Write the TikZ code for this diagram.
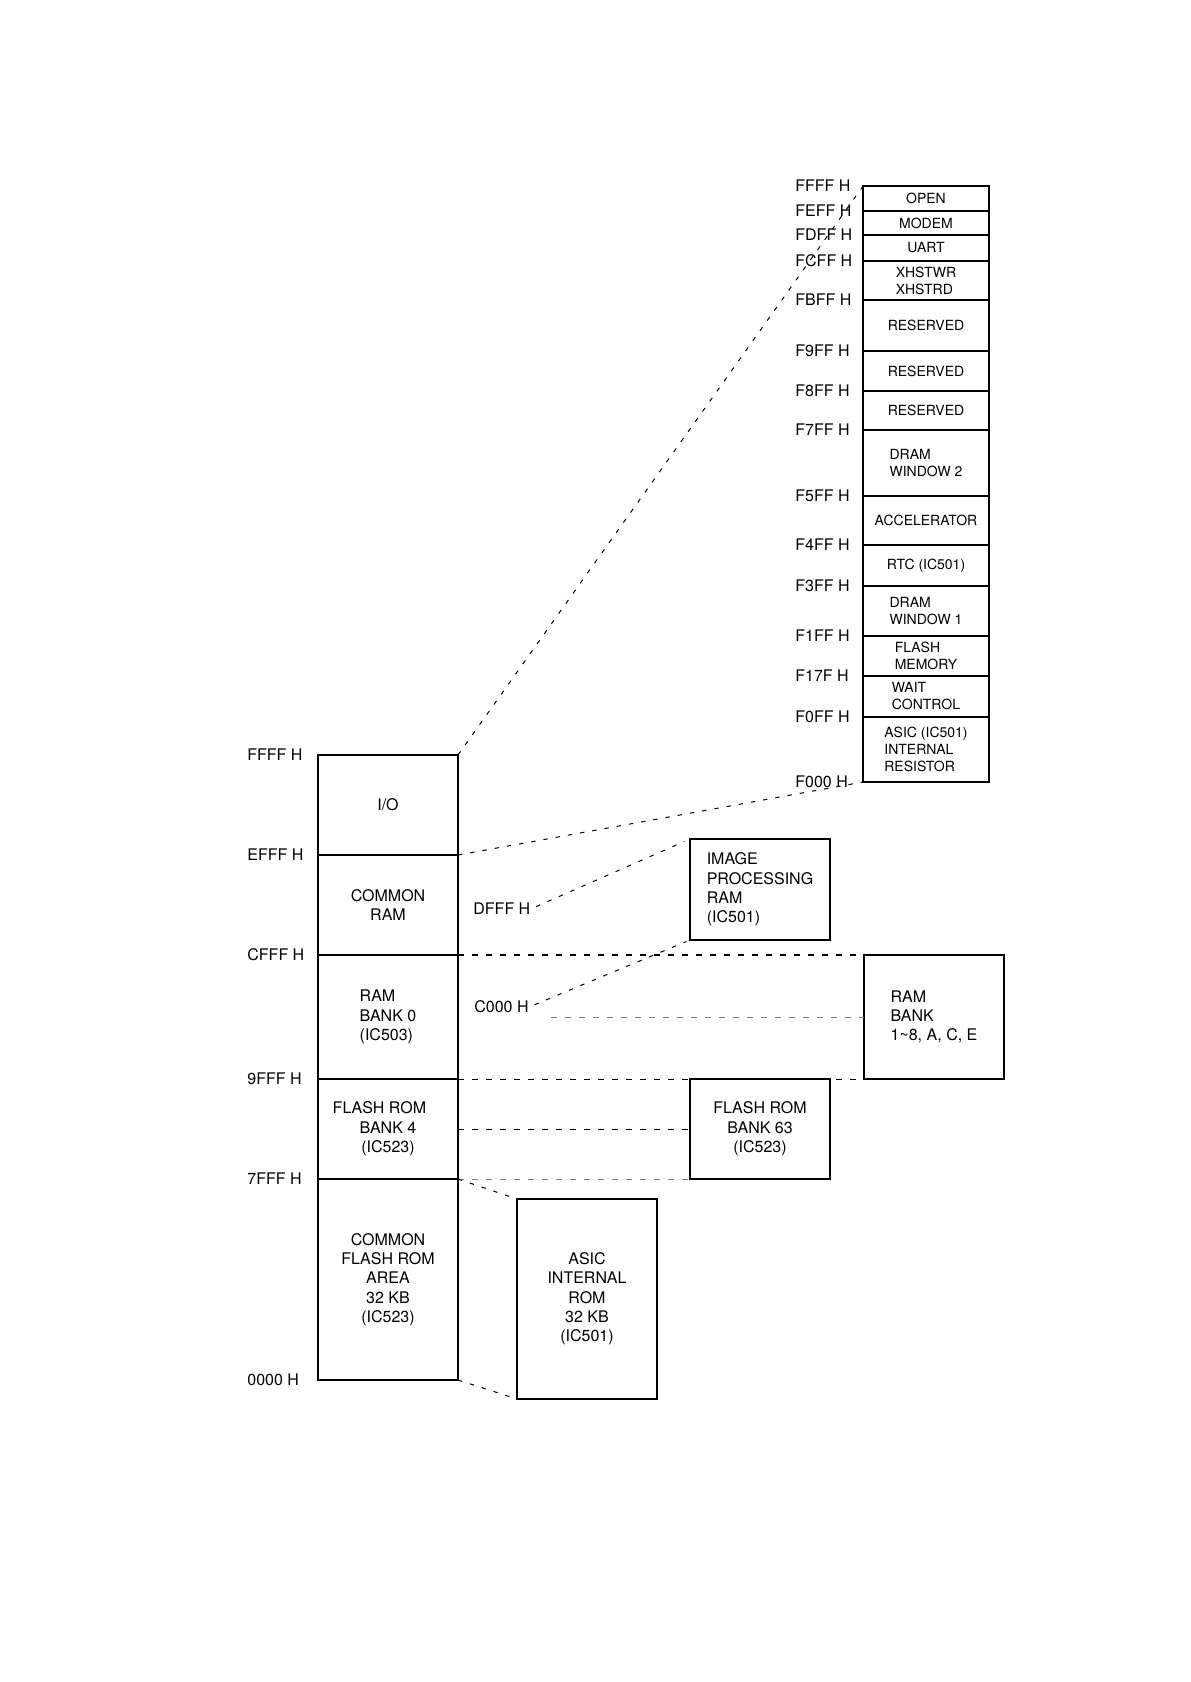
\documentclass[tikz,border=0pt]{standalone}
\usepackage{fontspec}
\setmainfont{TeX Gyre Heros}

\begin{document}
\begin{tikzpicture}[x=0.5pt,y=-0.5pt]
    \tikzstyle{region}=[rectangle,draw,line width=0.6pt,inner sep=0pt,outer sep=0pt,anchor=north west,minimum width=70pt,align=center,font=\fontsize{8}{9.65}\selectfont]
    \tikzstyle{iocell}=[region,line width=0.7pt,minimum width=63pt,align=left,font=\fontsize{7}{8.5}\selectfont]
    \tikzstyle{addr}=[anchor=west,inner sep=0pt,font=\fontsize{8}{9.65}\selectfont]
    \tikzstyle{link}=[line width=0.5pt,dash pattern=on 3pt off 4pt]
    \tikzstyle{slant}=[line width=0.5pt,dash pattern=on 2.2pt off 4pt]

    \useasboundingbox (0,0) rectangle (1190,1682);

    % Main memory map
    \node [region, minimum height=50pt]  (io)     at (318,755)  {I/O};
    \node [region, minimum height=50pt]  (cram)   at (318,855)  {COMMON\\RAM};
    \node [region, minimum height=62pt, align=left] (bank0) at (318,955) {RAM\\BANK 0\\(IC503)};
    \node [region, minimum height=50pt]  (bank4)  at (318,1079) {\hspace*{-8.6pt}FLASH ROM\\BANK 4\\(IC523)};
    \node [region, minimum height=100.5pt] (cflash) at (318,1179) {COMMON\\FLASH ROM\\AREA\\32 KB\\(IC523)};

    \node [addr] (aFFFF) at (247,755)  {FFFF H};
    \node [addr] (aEFFF) at (247,855)  {EFFF H};
    \node [addr] (aCFFF) at (247,955)  {CFFF H};
    \node [addr] (a9FFF) at (247,1079) {9FFF H};
    \node [addr] (a7FFF) at (247,1179) {7FFF H};
    \node [addr] (a0000) at (247,1380) {0000 H};

    % Banked areas
    \node [region, minimum height=50.5pt, align=left] (imgram) at (690,839) {IMAGE\\PROCESSING\\RAM\\(IC501)};
    \node [region, minimum height=62pt, align=left] (rambank) at (864,955) {RAM\\BANK\\1\textasciitilde 8, A, C, E};
    \node [region, minimum height=50pt]  (bank63)  at (690,1079) {FLASH ROM\\BANK 63\\(IC523)};
    \node [region, minimum height=100pt] (asicrom) at (517,1199) {ASIC\\INTERNAL\\ROM\\32 KB\\(IC501)};

    \node [addr] (aDFFF) at (473,909)  {DFFF H};
    \node [addr] (aC000) at (474,1007) {C000 H};

    % I/O area
    \node [iocell, minimum height=12.5pt] (open)    at (863,186) {OPEN};
    \node [iocell, minimum height=12pt]   (modem)   at (863,211) {MODEM};
    \node [iocell, minimum height=13pt]   (uart)    at (863,235) {UART};
    \node [iocell, minimum height=19.5pt] (xhst)    at (863,261) {XHSTWR\\XHSTRD};
    \node [iocell, minimum height=25.5pt] (resA)    at (863,300) {RESERVED};
    \node [iocell, minimum height=20pt]   (resB)    at (863,351) {RESERVED};
    \node [iocell, minimum height=19.5pt] (resC)    at (863,391) {RESERVED};
    \node [iocell, minimum height=33pt]   (dramB)   at (863,430) {DRAM\\WINDOW 2};
    \node [iocell, minimum height=24.5pt] (accel)   at (863,496) {ACCELERATOR};
    \node [iocell, minimum height=20.5pt] (rtc)     at (863,545) {RTC (IC501)};
    \node [iocell, minimum height=25pt]   (dramA)   at (863,586) {DRAM\\WINDOW 1};
    \node [iocell, minimum height=20pt]   (flmem)   at (863,636) {FLASH\\MEMORY};
    \node [iocell, minimum height=20.5pt] (wait)    at (863,676) {WAIT\\CONTROL};
    \node [iocell, minimum height=32.5pt] (asicreg) at (863,717) {ASIC (IC501)\\INTERNAL\\RESISTOR};

    \node [addr] (aFFFFio) at (795,186) {FFFF H};
    \node [addr] (aFEFF)   at (795,211) {FEFF H};
    \node [addr] (aFDFF)   at (795,235) {FDFF H};
    \node [addr] (aFCFF)   at (795,261) {FCFF H};
    \node [addr] (aFBFF)   at (795,300) {FBFF H};
    \node [addr] (aF9FF)   at (795,351) {F9FF H};
    \node [addr] (aF8FF)   at (795,391) {F8FF H};
    \node [addr] (aF7FF)   at (795,430) {F7FF H};
    \node [addr] (aF5FF)   at (795,496) {F5FF H};
    \node [addr] (aF4FF)   at (795,545) {F4FF H};
    \node [addr] (aF3FF)   at (795,586) {F3FF H};
    \node [addr] (aF1FF)   at (795,636) {F1FF H};
    \node [addr] (aF17F)   at (795,676) {F17F H};
    \node [addr] (aF0FF)   at (795,717) {F0FF H};
    \node [addr] (aF000)   at (795,782) {F000 H};

    % Dashed guides
    \draw [slant] (io.north east) -- (open.north west);
    \draw [slant] (cram.north east) -- (asicreg.south west);
    \draw [slant, shorten <=3pt, shorten >=3pt] (aDFFF.east) -- (imgram.north west);
    \draw [slant, shorten <=3pt, shorten >=2pt] (aC000.east) -- (imgram.south west);

    \draw [link, line width=0.9pt] (cram.south east) -- (rambank.north west);
    \draw [link, gray] ([xshift=11pt]aC000.east |- rambank.west) -- (rambank.west);
    \draw [link] (bank0.south east) -- (rambank.south west);
    \draw [link] (bank4.east) -- (bank63.west);
    \draw [link, gray] (bank4.south east) -- (bank63.south west);

    \draw [slant] (cflash.north east) -- (asicrom.north west);
    \draw [slant] (cflash.south east) -- (asicrom.south west);

\end{tikzpicture}
\end{document}
